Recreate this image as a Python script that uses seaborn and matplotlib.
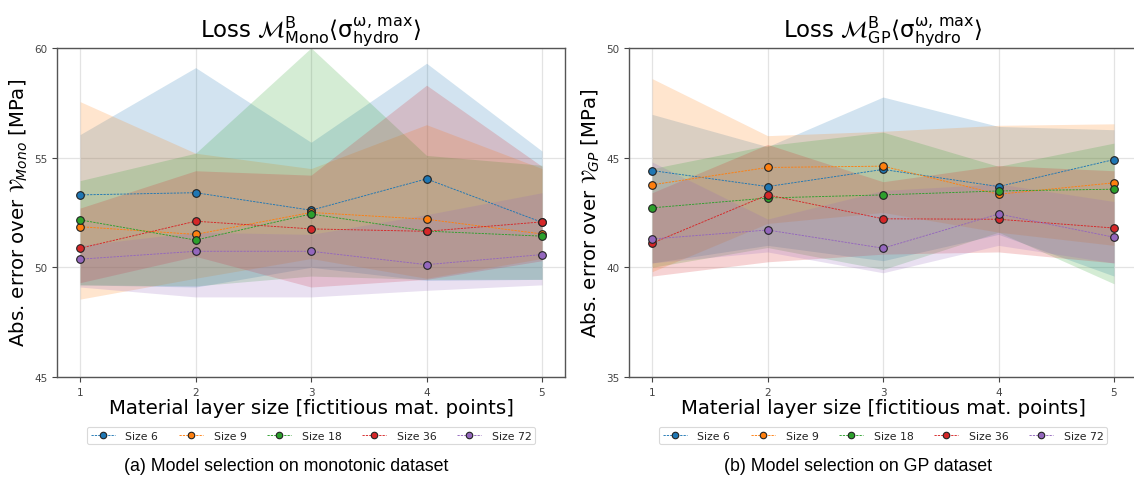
import numpy as np
import pandas as pd
import matplotlib
matplotlib.use("Agg")
import matplotlib.pyplot as plt
import seaborn as sns

# ---------------- data ----------------
layer_sizes = [1, 2, 3, 4, 5]
series_names = ["Size 6", "Size 9", "Size 18", "Size 36", "Size 72"]

# Monotonic dataset (left)
mono_mean = {
    "Size 6":  [53.30, 53.40, 52.60, 54.03, 52.05],
    "Size 9":  [51.85, 51.50, 52.50, 52.19, 51.52],
    "Size 18": [52.16, 51.24, 52.43, 51.65, 51.42],
    "Size 36": [50.87, 52.10, 51.75, 51.64, 52.07],
    "Size 72": [50.37, 50.73, 50.73, 50.12, 50.58],
}
mono_lower = {
    "Size 6":  [49.20, 49.10, 50.00, 49.40, 49.45],
    "Size 9":  [48.55, 49.50, 50.40, 49.50, 50.40],
    "Size 18": [49.20, 49.15, 49.60, 49.45, 49.45],
    "Size 36": [49.30, 50.50, 49.10, 49.45, 50.30],
    "Size 72": [49.10, 48.65, 48.65, 48.95, 49.20],
}
mono_upper = {
    "Size 6":  [56.05, 59.10, 55.70, 59.30, 55.30],
    "Size 9":  [57.55, 55.20, 54.50, 56.50, 54.50],
    "Size 18": [53.95, 55.20, 60.00, 55.10, 54.65],
    "Size 36": [52.70, 54.40, 54.20, 58.30, 54.60],
    "Size 72": [51.00, 51.60, 51.50, 52.40, 53.40],
}

# GP dataset (right)
gp_mean = {
    "Size 6":  [44.41, 43.68, 44.46, 43.68, 44.91],
    "Size 9":  [43.76, 44.55, 44.61, 43.33, 43.85],
    "Size 18": [42.71, 43.16, 43.30, 43.48, 43.56],
    "Size 36": [41.10, 43.30, 42.21, 42.19, 41.79],
    "Size 72": [41.29, 41.70, 40.87, 42.43, 41.37],
}
gp_lower = {
    "Size 6":  [40.20, 41.00, 40.30, 41.50, 39.60],
    "Size 9":  [39.80, 42.00, 42.50, 41.60, 41.00],
    "Size 18": [40.00, 40.90, 39.90, 41.60, 39.25],
    "Size 36": [39.60, 40.25, 40.60, 40.70, 40.20],
    "Size 72": [40.20, 40.70, 39.75, 41.00, 40.20],
}
gp_upper = {
    "Size 6":  [46.97, 45.50, 47.76, 46.42, 46.27],
    "Size 9":  [48.60, 46.00, 46.20, 46.47, 46.54],
    "Size 18": [44.50, 45.55, 46.16, 44.60, 45.66],
    "Size 36": [43.40, 45.60, 43.90, 44.64, 44.40],
    "Size 72": [44.80, 42.20, 43.50, 43.80, 43.00],
}

colors = ["#1f77b4", "#ff7f0e", "#2ca02c", "#d62728", "#9467bd"]

# ---------------- style ----------------
sns.set_style("whitegrid", {
    "grid.color": "#e3e3e3",
    "axes.edgecolor": "#555555",
    "xtick.bottom": True,
    "ytick.left": True,
    "text.color": "black",
    "axes.labelcolor": "black",
})
plt.rcParams["font.family"] = ["DejaVu Sans"]
plt.rcParams["mathtext.fontset"] = "dejavusans"

fig = plt.figure(figsize=(11.34, 4.89), dpi=100)
ax1 = fig.add_axes([0.0503, 0.227, 0.448, 0.673])
ax2 = fig.add_axes([0.5547, 0.227, 0.448, 0.673])


def draw(ax, mean, lower, upper, ylim, yticks, title, ylabel):
    for name, col in zip(series_names, colors):
        ax.fill_between(layer_sizes, lower[name], upper[name],
                        color=col, alpha=0.2, linewidth=0)
    for name, col in zip(series_names, colors):
        df = pd.DataFrame({"x": layer_sizes, "y": mean[name]})
        sns.lineplot(data=df, x="x", y="y", ax=ax, color=col,
                     linestyle=(0, (2.5, 1.2)), linewidth=0.65, marker="o",
                     markersize=5.5, markeredgecolor="#222222",
                     markeredgewidth=0.8, label=name)
    ax.set_xlim(0.8, 5.2)
    ax.set_ylim(*ylim)
    ax.set_xticks(layer_sizes)
    ax.set_yticks(yticks)
    ax.tick_params(axis="both", labelsize=7.5, colors="#444444",
                   length=3.5, width=0.8, direction="out")
    for sp in ax.spines.values():
        sp.set_linewidth(1.0)
        sp.set_color("#555555")
    ax.grid(True, color="#e3e3e3", linewidth=0.9)
    ax.set_title(title, fontsize=16.5, pad=7, color="black")
    ax.set_xlabel("Material layer size [fictitious mat. points]",
                  fontsize=14.2, labelpad=1, color="black")
    ax.set_ylabel(ylabel, fontsize=14.2, labelpad=3, color="black")
    leg = ax.legend(loc="upper center", bbox_to_anchor=(0.5, -0.135),
                    ncol=5, fontsize=7.8, frameon=True,
                    handlelength=2.2, columnspacing=1.9, handletextpad=1.0,
                    borderpad=0.35, fancybox=True, markerscale=0.85)
    leg.get_frame().set_edgecolor("#d0d0d0")
    leg.get_frame().set_linewidth(0.8)
    for t in leg.get_texts():
        t.set_color("#222222")


draw(ax1, mono_mean, mono_lower, mono_upper, (45, 60), [45, 50, 55, 60],
     r"Loss $\mathcal{M}^{\mathrm{B}}_{\mathrm{Mono}}\langle\mathrm{\sigma}^{\mathrm{\omega,\,max}}_{\mathrm{hydro}}\rangle$",
     r"Abs. error over $\mathcal{V}_{Mono}$ [MPa]")
draw(ax2, gp_mean, gp_lower, gp_upper, (35, 50), [35, 40, 45, 50],
     r"Loss $\mathcal{M}^{\mathrm{B}}_{\mathrm{GP}}\langle\mathrm{\sigma}^{\mathrm{\omega,\,max}}_{\mathrm{hydro}}\rangle$",
     r"Abs. error over $\mathcal{V}_{GP}$ [MPa]")

fig.text(0.252, 0.047, "(a) Model selection on monotonic dataset",
         ha="center", va="center", fontsize=12.8, family="Liberation Sans",
         color="black")
fig.text(0.757, 0.047, "(b) Model selection on GP dataset",
         ha="center", va="center", fontsize=12.8, family="Liberation Sans",
         color="black")

fig.savefig("out.png", dpi=100, facecolor="white")
